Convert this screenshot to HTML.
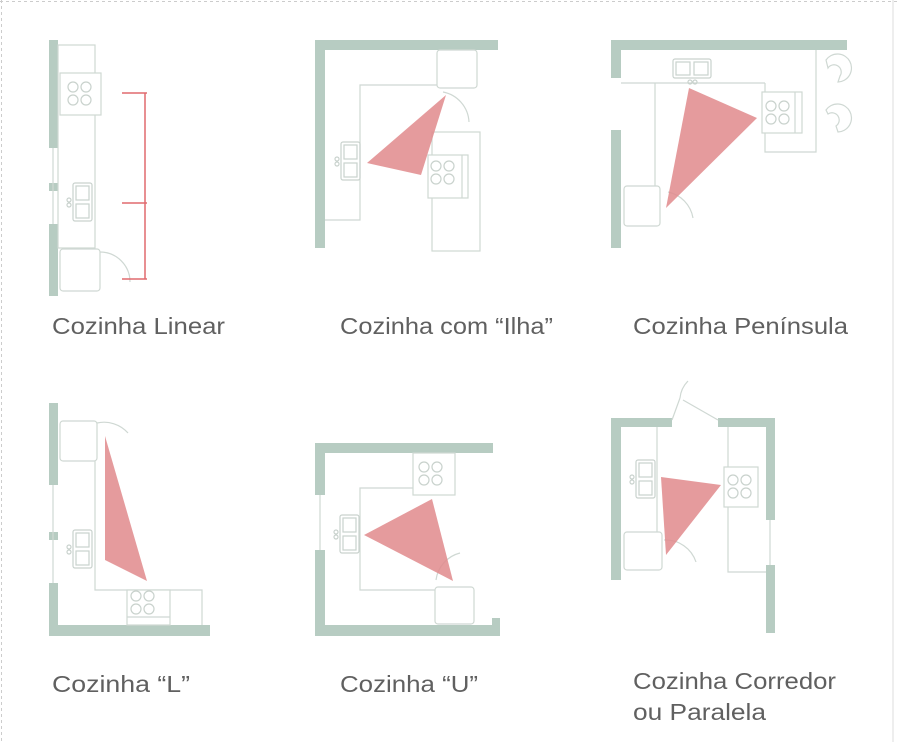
<!DOCTYPE html>
<html><head><meta charset="utf-8"><style>
html,body{margin:0;padding:0;background:#fff}
svg{display:block}
text{font-family:"Liberation Sans",sans-serif;font-size:23px;fill:#606060}
</style></head><body>
<svg width="900" height="742" viewBox="0 0 900 742" xmlns="http://www.w3.org/2000/svg">
<defs>
<g id="burn" fill="none" stroke="#c9d2cd" stroke-width="1.2">
<circle cx="0" cy="0" r="5"/><circle cx="13" cy="0" r="5"/><circle cx="0" cy="13" r="5"/><circle cx="13" cy="13" r="5"/>
</g>
<g id="sink" fill="none" stroke="#c9d2cd" stroke-width="1.2">
<rect x="0" y="0" width="19" height="38" rx="2"/><rect x="3" y="3" width="13" height="14"/><rect x="3" y="21" width="13" height="14"/>
<circle cx="-4" cy="17" r="2"/><circle cx="-4" cy="22" r="2"/>
</g>
</defs>
<line x1="0" y1="1.5" x2="900" y2="1.5" stroke="#ccc" stroke-dasharray="3,3"/>
<line x1="1.5" y1="0" x2="1.5" y2="742" stroke="#ccc" stroke-dasharray="3,3"/>
<line x1="893" y1="0" x2="893" y2="742" stroke="#ddd"/>

<g fill="#b7ccc2">
<rect x="49" y="40" width="9" height="108"/><rect x="49" y="183" width="9" height="8"/><rect x="49" y="224" width="9" height="72"/>
<rect x="315" y="40" width="183" height="10"/><rect x="315" y="40" width="10" height="208"/>
<rect x="611" y="40" width="236" height="10"/><rect x="611" y="40" width="10" height="38"/><rect x="611" y="130" width="10" height="118"/>
<rect x="49" y="403" width="9" height="82"/><rect x="49" y="532" width="9" height="8"/><rect x="49" y="583" width="9" height="53"/><rect x="49" y="625" width="161" height="11"/>
<rect x="315" y="443" width="178" height="10"/><rect x="315" y="443" width="10" height="52"/><rect x="315" y="550" width="10" height="86"/><rect x="315" y="625" width="185" height="11"/><rect x="492" y="618" width="8" height="18"/>
<rect x="611" y="418" width="10" height="162"/><rect x="611" y="418" width="61" height="9"/><rect x="718" y="418" width="57" height="9"/><rect x="766" y="418" width="9" height="102"/><rect x="766" y="565" width="9" height="68"/>
</g>

<g fill="none" stroke="#cfd8d3" stroke-width="1.2">
<line x1="53" y1="148" x2="53" y2="224"/><rect x="58" y="45" width="37" height="203"/><rect x="60" y="73" width="41" height="42" fill="#fff"/>
<rect x="60" y="249" width="40" height="42" rx="3" fill="#fff"/><path d="M100 252 A30 30 0 0 1 130 282"/>
<rect x="437" y="50" width="40" height="38" rx="3"/><path d="M325 220 H360 V85 H437"/><path d="M443 92 A32 32 0 0 1 469 122"/>
<rect x="432" y="132" width="48" height="119"/><rect x="428" y="155" width="40" height="43" fill="#fff"/><line x1="462" y1="155" x2="462" y2="198"/>
<path d="M621 83 H655 V186 M655 83 H765 M816 50 V152 H765 V83"/><rect x="762" y="92" width="40" height="41" fill="#fff"/><line x1="795" y1="92" x2="795" y2="133"/>
<rect x="624" y="186" width="36" height="40" rx="3"/><path d="M668 192 A32 32 0 0 1 693 218"/>
<path d="M826 60 A14 14 0 1 1 838 82 L840 76 A7 7 0 0 0 828 68 Z"/>
<path d="M826 110 A14 14 0 1 1 838 132 L836 126 A7 7 0 0 0 828 114 Z"/>
<line x1="53" y1="485" x2="53" y2="583"/><rect x="60" y="421" width="37" height="40" rx="3"/><path d="M97 423 A32 32 0 0 1 128 433"/>
<path d="M95 461 V590 H202 V625"/><rect x="127" y="590" width="43" height="35" fill="#fff"/><line x1="127" y1="617" x2="170" y2="617"/>
<line x1="320" y1="495" x2="320" y2="550"/><rect x="413" y="453" width="42" height="42" fill="#fff"/><path d="M413 488 H360 V590 H435"/>
<rect x="435" y="587" width="39" height="37" rx="3"/><path d="M436 580 A32 32 0 0 1 460 553"/>
<line x1="770" y1="520" x2="770" y2="565"/><path d="M657 427 V532 M728 427 V572 H766"/><rect x="724" y="467" width="34" height="40" fill="#fff"/>
<rect x="624" y="532" width="38" height="38" rx="3"/><path d="M664 540 A32 32 0 0 1 696 562"/>
<path d="M672 420 L680 398 M680 398 A28 28 0 0 1 688 381 M683 400 L718 420"/>
</g>
<g>
<use href="#burn" x="73" y="87"/><use href="#sink" x="73" y="183"/>
<use href="#sink" x="341" y="142"/><use href="#burn" x="436" y="166"/>
<use href="#sink" transform="translate(673,78) rotate(-90)"/><use href="#burn" x="771" y="106"/>
<use href="#sink" x="73" y="530"/><use href="#burn" x="136" y="596"/>
<use href="#sink" x="340" y="515"/><use href="#burn" x="424" y="467"/>
<use href="#sink" x="636" y="460"/><use href="#burn" x="733" y="480"/>
</g>

<g stroke="#e06a6f" stroke-width="1.5">
<line x1="145" y1="93" x2="145" y2="279"/><line x1="122" y1="93" x2="147" y2="93"/><line x1="122" y1="203" x2="147" y2="203"/><line x1="122" y1="279" x2="147" y2="279"/>
</g>
<g fill="#e0898c" fill-opacity="0.85">
<polygon points="446,95 367,163 421,175"/>
<polygon points="689,88 757,118 666,208"/>
<polygon points="105,436 147,581 105,560"/>
<polygon points="432,499 364,535 453,581"/>
<polygon points="661,477 721,485 666,555"/>
</g>

<text x="52" y="334" textLength="173" lengthAdjust="spacingAndGlyphs">Cozinha Linear</text>
<text x="340" y="334" textLength="213" lengthAdjust="spacingAndGlyphs">Cozinha com “Ilha”</text>
<text x="633" y="334" textLength="215" lengthAdjust="spacingAndGlyphs">Cozinha Península</text>
<text x="52" y="692" textLength="138" lengthAdjust="spacingAndGlyphs">Cozinha “L”</text>
<text x="340" y="692" textLength="138" lengthAdjust="spacingAndGlyphs">Cozinha “U”</text>
<text x="633" y="689" textLength="203" lengthAdjust="spacingAndGlyphs">Cozinha Corredor</text>
<text x="633" y="720" textLength="133" lengthAdjust="spacingAndGlyphs">ou Paralela</text>
</svg>
</body></html>
